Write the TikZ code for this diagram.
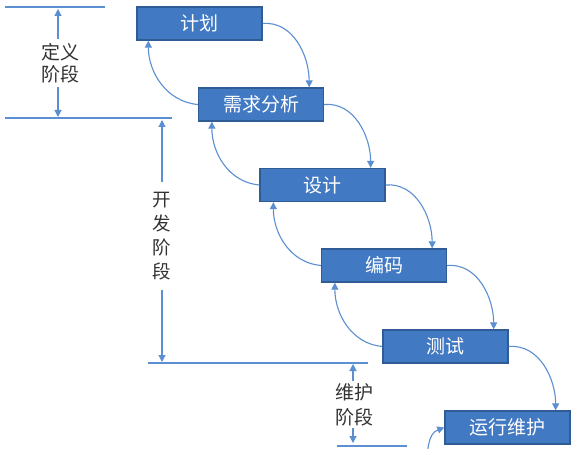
\documentclass[tikz,border=0pt]{standalone}
\usepackage{fontspec}
\setmainfont{Noto Sans CJK SC}
\usetikzlibrary{arrows.meta,calc}
\definecolor{boxfill}{HTML}{4279C3}
\definecolor{boxline}{HTML}{2F5C94}
\definecolor{arr}{HTML}{5B8FD2}
\definecolor{lbl}{HTML}{333333}
\begin{document}
\begin{tikzpicture}[x=1pt,y=1pt,
  stage/.style={draw=boxline,fill=boxfill,line width=1.3pt,minimum width=125pt,minimum height=33pt,inner sep=0pt,text=white,font=\fontsize{19}{19}\selectfont},
  flow/.style={draw=arr,line width=1.1pt,-{Triangle[width=7pt,length=7pt]}},
  rule/.style={draw=arr,line width=1.1pt},
  dimarrow/.style={draw=arr,line width=1.1pt,-{Triangle[width=7pt,length=7pt]}},
  phase/.style={text=lbl,font=\fontsize{19}{22}\selectfont,align=center,inner xsep=2pt,inner ysep=4pt}]
\useasboundingbox (0,0) rectangle (575,-449);
\fill[white] (0,0) rectangle (575,-449);

% stages
\node[stage] (plan) at (199.5,-23.5) {计划};
\node[stage] (req)  at (261,-104.5) {需求分析};
\node[stage] (des)  at (322.5,-185) {设计};
\node[stage] (code) at (384,-265.5) {编码};
\node[stage] (test) at (445.5,-346.5) {测试};
\node[stage] (ops)  at (507.5,-427.5) {运行维护};

% forward arrows
\draw[flow] (plan.east) to[out=5,in=90] ($(req.north east)+(-15,0)$);
\draw[flow] (req.east)  to[out=5,in=90] ($(des.north east)+(-15,0)$);
\draw[flow] (des.east)  to[out=5,in=90] ($(code.north east)+(-15,0)$);
\draw[flow] (code.east) to[out=5,in=90] ($(test.north east)+(-15,0)$);
\draw[flow] (test.east) to[out=5,in=90] ($(ops.north east)+(-15,0)$);

% backward arrows
\draw[flow] (req.west)  to[out=175,in=-90] ($(plan.south west)+(12,0)$);
\draw[flow] (des.west)  to[out=175,in=-90] ($(req.south west)+(14,0)$);
\draw[flow] (code.west) to[out=175,in=-90] ($(des.south west)+(14,0)$);
\draw[flow] (test.west) to[out=175,in=-90] ($(code.south west)+(14,0)$);
\coordinate (below) at (426,-470);
\begin{scope}
\clip (0,0) rectangle (575,-449);
\draw[flow] (below) to[out=85,in=200] (ops.west);
\end{scope}

% phase boundary lines
\coordinate (l1a) at (5,-7);    \coordinate (l1b) at (105,-7);
\coordinate (l2a) at (5,-118);  \coordinate (l2b) at (172,-118);
\coordinate (l3a) at (148,-363); \coordinate (l3b) at (368,-363);
\coordinate (l4a) at (337,-446); \coordinate (l4b) at (407,-446);
\draw[rule] (l1a) -- (l1b);
\draw[rule] (l2a) -- (l2b);
\draw[rule] (l3a) -- (l3b);
\draw[rule] (l4a) -- (l4b);

% phase labels and dimension arrows
\node[phase] (p1) at (60,-63) {定义\\阶段};
\coordinate (p1t) at (58,-9);
\coordinate (p1b) at (58,-117);
\draw[dimarrow] (p1.north -| p1t) -- (p1t);
\draw[dimarrow] (p1.south -| p1b) -- (p1b);

\node[phase,font=\fontsize{18.5}{24}\selectfont,inner ysep=10pt] (p2) at (162,-236) {开\\发\\阶\\段};
\coordinate (p2t) at (162,-120);
\coordinate (p2b) at (162,-362);
\draw[dimarrow] (p2.north) -- (p2t);
\draw[dimarrow] (p2.south) -- (p2b);

\node[phase,font=\fontsize{19}{25}\selectfont,inner ysep=2pt] (p3) at (354,-404.5) {维护\\阶段};
\coordinate (p3t) at (353,-364);
\coordinate (p3b) at (353,-443);
\draw[dimarrow] (p3.north -| p3t) -- (p3t);
\draw[dimarrow] (p3.south -| p3b) -- (p3b);
\end{tikzpicture}
\end{document}
